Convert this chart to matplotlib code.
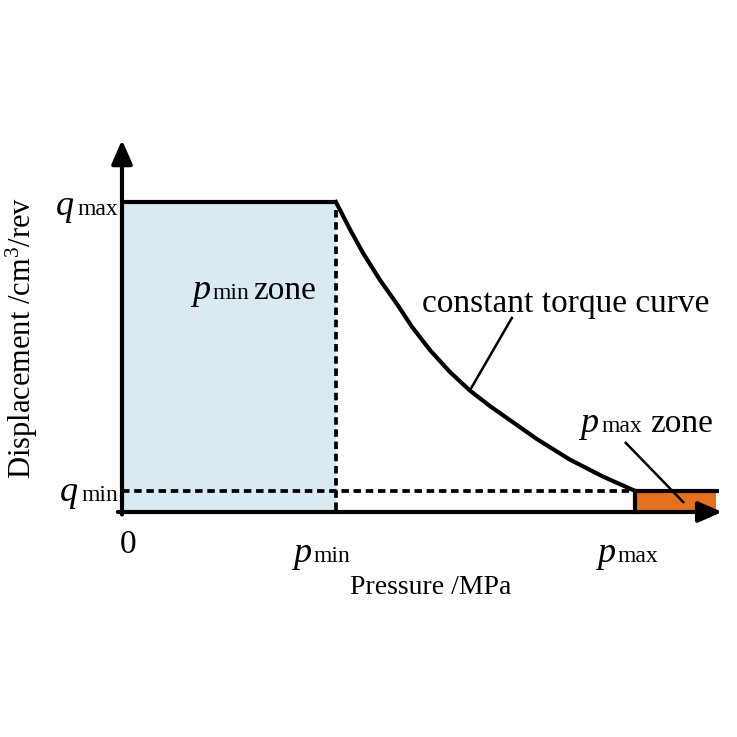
import matplotlib.pyplot as plt
from matplotlib.offsetbox import TextArea, HPacker, AnnotationBbox

plt.rcParams['mathtext.fontset'] = 'custom'
plt.rcParams['mathtext.it'] = 'Liberation Serif:italic'
plt.rcParams['mathtext.rm'] = 'Liberation Serif'

# schematic values (normalised: p_max = 1, q_max = 1)
p_min = 0.417
p_max = 1.0
p_end = 1.158
q_min = 0.068
q_max = 1.0
x_arrow = 1.17
y_arrow = 1.20

# constant torque curve
curve_p = [0.417, 0.444, 0.470, 0.503, 0.536, 0.565, 0.600, 0.639, 0.678,
           0.717, 0.760, 0.809, 0.873, 0.938, 1.0]
curve_q = [1.0, 0.913, 0.835, 0.748, 0.671, 0.598, 0.523, 0.452, 0.392,
           0.342, 0.292, 0.235, 0.169, 0.114, 0.068]

blue = '#d9eaf2'
orange = '#e5701d'
serif = 'Liberation Serif'

fig = plt.figure(figsize=(7.37, 7.37), dpi=100)
ax = fig.add_axes([0, 0, 1, 1])
ax.set_xlim(-122/513, 615/513)
ax.set_ylim(-225/310, 512/310)
ax.axis('off')

# zones
ax.fill_between([0, p_min], 0, q_max, color=blue, lw=0)
ax.fill_between([p_max, p_end], 0, q_min, color=orange, lw=0)

# dashed guides
dash = (0, (2.0, 1.25))
ax.plot([p_min, p_min], [q_max - 0.025, 0], 'k', lw=2.7, ls=dash)
ax.plot([0, p_max], [q_min, q_min], 'k', lw=2.7, ls=dash)

# solid characteristic
lw = 3.0
ax.plot([0, p_min], [q_max, q_max], 'k', lw=lw, solid_capstyle='butt')
ax.plot(curve_p, curve_q, 'k', lw=lw, solid_joinstyle='round')
ax.plot([p_max, p_end + 0.005], [q_min, q_min], 'k', lw=lw, solid_capstyle='butt')
ax.plot([p_max, p_max], [q_min, 0], 'k', lw=lw)

# axes with arrows
arrow = dict(arrowstyle='-|>,head_length=0.8,head_width=0.35', lw=lw,
             color='k', shrinkA=0, shrinkB=0, mutation_scale=18)
ax.annotate('', xy=(x_arrow, 0), xytext=(-0.008, 0), arrowprops=arrow)
ax.annotate('', xy=(0, y_arrow), xytext=(0, -0.008), arrowprops=arrow)


def label(x, y, main, sub, rest='', align=(0, 0.5), gap=3):
    sym = HPacker(children=[
        TextArea(main, textprops=dict(fontsize=26, style='italic', family=serif)),
        TextArea(sub, textprops=dict(fontsize=17, family=serif))],
        align='baseline', pad=0, sep=2)
    box = sym
    if rest:
        box = HPacker(children=[sym, TextArea(rest, textprops=dict(fontsize=24, family=serif))],
                      align='baseline', pad=0, sep=gap)
    ab = AnnotationBbox(box, (x, y), box_alignment=align, frameon=False, pad=0)
    ax.add_artist(ab)


# tick labels
label(-0.008, 0.985, 'q', 'max', align=(1, 0.5))
label(-0.008, 0.062, 'q', 'min', align=(1, 0.5))
label(0.333, -0.135, 'p', 'min')
label(0.926, -0.135, 'p', 'max')
ax.text(0.012, -0.105, '0', fontsize=24, family=serif, ha='center', va='center')

# axis titles
ax.text(0.602, -0.245, 'Pressure /MPa', fontsize=20, family=serif,
        ha='center', va='center')
ax.text(-0.195, 0.561, r'Displacement /cm$^3$/rev', fontsize=22, family=serif,
        ha='center', va='center', rotation=90)

# zone labels
label(0.136, 0.716, 'p', 'min', rest='zone')
label(0.893, 0.287, 'p', 'max', rest='zone', gap=6)
ax.text(0.585, 0.672, 'constant torque curve', fontsize=24, family=serif,
        ha='left', va='center')

# leaders
ax.plot([0.760, 0.678], [0.626, 0.392], 'k', lw=1.8)
ax.plot([0.982, 1.094], [0.223, 0.032], 'k', lw=1.8)

fig.savefig('out.png', dpi=100)
